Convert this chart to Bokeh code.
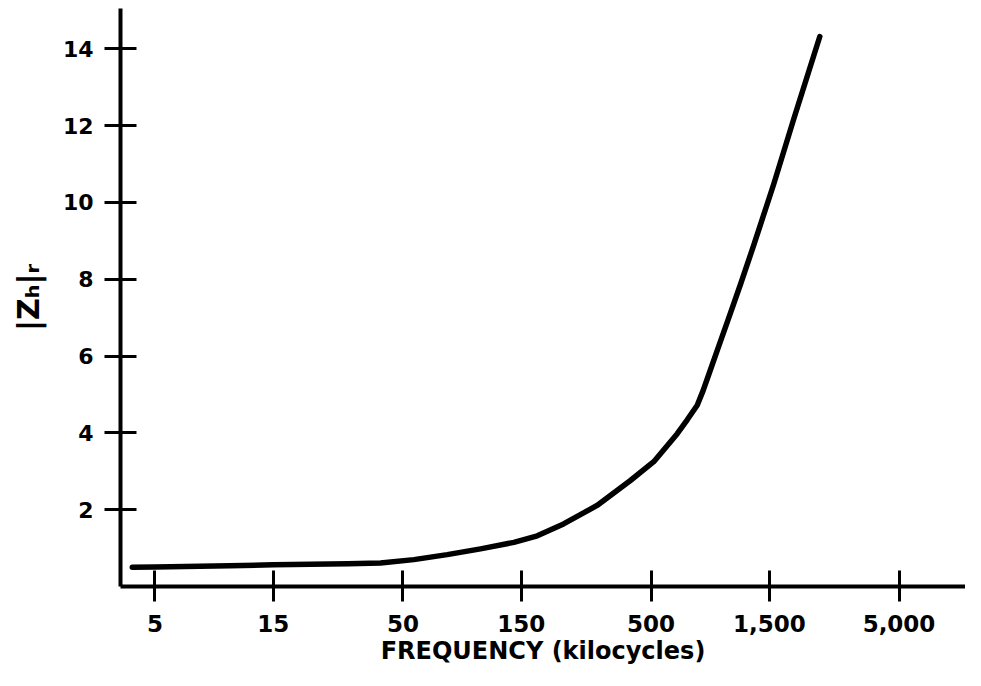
from bokeh.plotting import figure
from bokeh.models import Range1d, FixedTicker, NumeralTickFormatter, ColumnDataSource
from bokeh.embed import file_html
from bokeh.resources import INLINE

# Data
freq_kc = [4.05, 5, 10, 15, 30, 40.6, 55.3, 75.4, 102.7, 140, 174, 222, 303, 413, 513,
           638, 700, 768, 811, 855, 938, 1047, 1148, 1300, 1563, 1883, 2397]
z_hr = [0.50, 0.51, 0.54, 0.565, 0.59, 0.61, 0.70, 0.83, 0.98, 1.15, 1.32, 1.63, 2.11, 2.76, 3.25,
        3.98, 4.34, 4.72, 5.10, 5.52, 6.26, 7.13, 7.87, 8.90, 10.48, 12.18, 14.32]
x_ticks = [5, 15, 50, 150, 500, 1500, 5000]
y_ticks = [2, 4, 6, 8, 10, 12, 14]

FONT = "DejaVu Sans"

p = figure(width=965, height=670, x_axis_type="log",
           x_range=Range1d(3.63, 9270), y_range=Range1d(0, 15.05),
           output_backend="svg", toolbar_location=None,
           min_border_left=120, min_border_right=0, min_border_top=8, min_border_bottom=84)

src = ColumnDataSource(data=dict(f=freq_kc, z=z_hr))
p.line("f", "z", source=src, line_color="black", line_width=5.5,
       line_join="round", line_cap="round")

p.grid.visible = False
p.outline_line_color = None
p.background_fill_color = "white"
p.border_fill_color = "white"

xa = p.xaxis[0]
xa.ticker = FixedTicker(ticks=x_ticks)
xa.formatter = NumeralTickFormatter(format="0,0")
xa.axis_label = "FREQUENCY (kilocycles)"

ya = p.yaxis[0]
ya.ticker = FixedTicker(ticks=y_ticks)
ya.axis_label = "|Zₕ|ᵣ"

for ax in (xa, ya):
    ax.axis_line_color = "black"
    ax.axis_line_width = 4
    ax.major_tick_line_color = "black"
    ax.major_tick_line_width = 3
    ax.major_tick_in = 16
    ax.major_tick_out = 16
    ax.minor_tick_line_color = None
    ax.major_label_text_font = FONT
    ax.major_label_text_font_style = "bold"
    ax.major_label_text_color = "black"
    ax.axis_label_text_font = FONT
    ax.axis_label_text_font_style = "bold"
    ax.axis_label_text_color = "black"

xa.major_tick_out = 15
xa.major_label_text_font_size = "23px"
xa.major_label_standoff = 13
xa.axis_label_text_font_size = "24px"
xa.axis_label_standoff = 2

ya.major_label_text_font_size = "22px"
ya.major_label_standoff = 11
ya.axis_label_text_font_size = "30px"
ya.axis_label_standoff = 14

open("out.html", "w").write(file_html(p, INLINE))
